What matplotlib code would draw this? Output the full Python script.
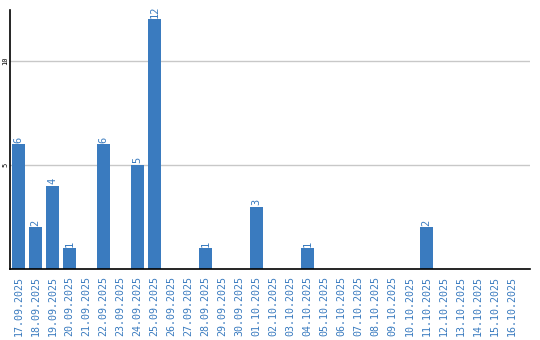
import matplotlib
matplotlib.use("Agg")
import matplotlib.pyplot as plt

dates = ["17.09.2025", "18.09.2025", "19.09.2025", "20.09.2025", "21.09.2025",
         "22.09.2025", "23.09.2025", "24.09.2025", "25.09.2025", "26.09.2025",
         "27.09.2025", "28.09.2025", "29.09.2025", "30.09.2025", "01.10.2025",
         "02.10.2025", "03.10.2025", "04.10.2025", "05.10.2025", "06.10.2025",
         "07.10.2025", "08.10.2025", "09.10.2025", "10.10.2025", "11.10.2025",
         "12.10.2025", "13.10.2025", "14.10.2025", "15.10.2025", "16.10.2025"]
values = [6, 2, 4, 1, 0, 6, 0, 5, 12, 0, 0, 1, 0, 0, 3, 0, 0, 1, 0, 0,
          0, 0, 0, 0, 2, 0, 0, 0, 0, 0]
yticks = [5, 10]

blue = "#3a7bbf"
fig = plt.figure(figsize=(5.4, 3.4), dpi=100)
ax = fig.add_axes([10/540, 71/340, 520/540, 259/340])
x = list(range(len(dates)))
ax.bar(x, values, width=0.82, color=blue, zorder=2)
for xi, v in zip(x, values):
    if v > 0:
        ax.text(xi, v + 0.08, str(v), rotation=90, ha="center", va="bottom",
                color=blue, fontsize=7.5, family="DejaVu Sans Mono")
ax.set_xlim(-0.5, 30.09)
ax.set_ylim(0, 12.45)
ax.set_yticks(yticks)
ax.set_yticklabels([str(t) for t in yticks], rotation=90, va="center",
                   fontsize=5, family="DejaVu Sans Mono")
ax.set_xticks(x)
ax.set_xticklabels(dates, rotation=90, fontsize=7.2, color=blue,
                   family="DejaVu Sans Mono")
ax.tick_params(axis="both", length=0)
ax.tick_params(axis="x", pad=5)
ax.tick_params(axis="y", pad=1)
ax.grid(axis="y", color="#c8c8c8", linewidth=1, zorder=0)
for s in ["top", "right"]:
    ax.spines[s].set_visible(False)
ax.spines["left"].set_linewidth(1.2)
ax.spines["bottom"].set_linewidth(1.2)
fig.savefig("out.png", dpi=100)
